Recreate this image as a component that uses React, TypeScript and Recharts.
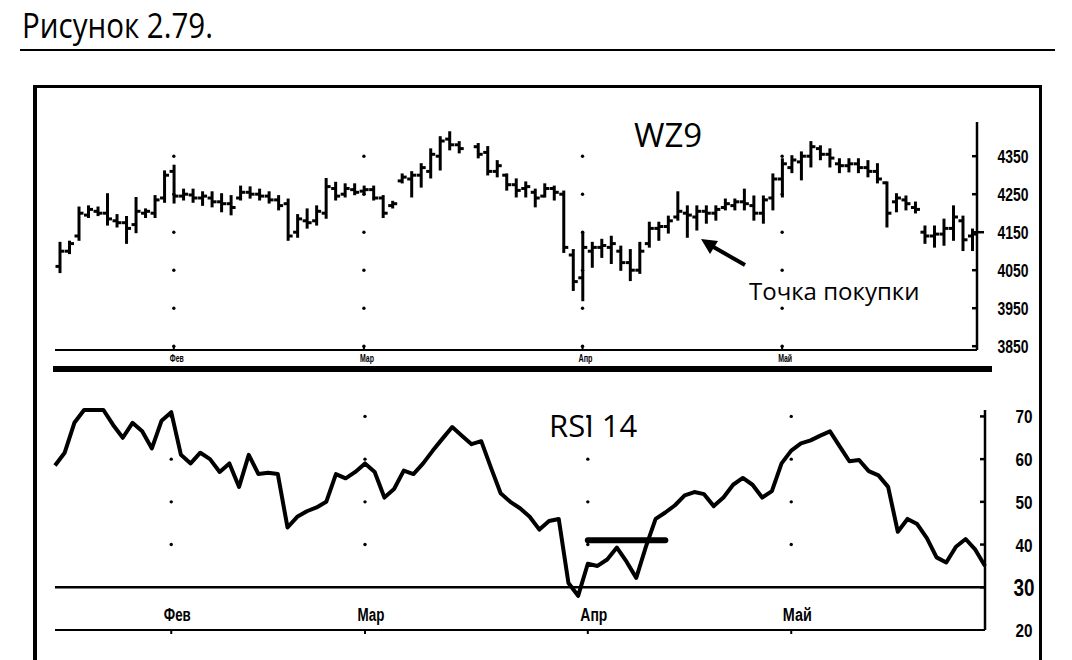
import React from "react";
import { ComposedChart, Bar, Line, XAxis, YAxis, ReferenceLine, ReferenceDot } from "recharts";

// WZ9 daily bars (Jan - May), one entry per trading day, null = no bar
const opens = [
  4060, 4100, 4140, 4195, 4205, 4200, 4180, 4175, 4170, 4200, 4200, 4240,
  4310, 4245, 4248, 4240, 4240, 4230, 4225, 4240, 4255, 4250, 4245, 4235, 4225, 4150, 4180, 4180, 4200, 4265, 4250, 4262,
  4258, 4262, 4240, 4220, 4285, 4290, 4300, 4310, 4350, 4395, 4380, null, 4375, 4360, 4310, 4300, 4275, 4265, 4255, 4245, 4265, 4250, 4090,
  4030, 4100, 4110, 4110, 4100, 4070, 4050, 4120, 4160, 4165, 4190, 4200, 4190, 4205, 4200, 4215, 4220, 4230, 4220, 4200, 4240,
  4290, 4320, 4335, 4350, 4370, 4355, 4330, 4325, 4330, 4320, 4310, 4280, 4230, 4235, 4215, 4150, 4140, 4145, 4160, 4180, 4140,
];
const highs = [
  4122, 4125, 4215, 4218, 4215, 4250, 4195, 4190, 4240, 4210, 4245, 4310,
  4325, 4262, 4262, 4255, 4255, 4250, 4245, 4270, 4268, 4262, 4255, 4245, 4236, 4195, 4210, 4218, 4290, 4280, 4276, 4276,
  4270, 4270, 4245, 4230, 4302, 4308, 4329, 4368, 4400, 4413, 4387, null, 4382, 4374, 4337, 4302, 4289, 4281, 4262, 4276, 4270, 4257, 4103,
  4149, 4122, 4130, 4138, 4112, 4103, 4122, 4175, 4175, 4191, 4255, 4218, 4218, 4218, 4218, 4236, 4236, 4262, 4244, 4244, 4302,
  4342, 4350, 4360, 4387, 4376, 4368, 4342, 4342, 4342, 4337, 4329, 4281, 4250, 4244, 4228, 4165, 4165, 4183, 4218, 4191, 4157,
];
const lows = [
  4045, 4095, 4130, 4190, 4195, 4170, 4165, 4122, 4150, 4190, 4190, 4230,
  4228, 4236, 4230, 4222, 4218, 4205, 4197, 4236, 4241, 4236, 4228, 4210, 4130, 4138, 4162, 4170, 4188, 4236, 4244, 4250,
  4250, 4236, 4190, 4215, 4281, 4244, 4270, 4294, 4315, 4368, 4360, null, 4347, 4302, 4297, 4262, 4244, 4244, 4218, 4244, 4236, 4098, 3998,
  3971, 4059, 4085, 4069, 4051, 4024, 4043, 4112, 4130, 4149, 4183, 4138, 4157, 4175, 4183, 4210, 4210, 4210, 4183, 4175, 4210,
  4244, 4308, 4289, 4323, 4342, 4323, 4308, 4310, 4308, 4297, 4281, 4165, 4205, 4210, 4202, 4122, 4112, 4117, 4130, 4103, 4103,
];
const closes = [
  4100, 4120, 4200, 4210, 4200, 4185, 4175, 4160, 4205, 4205, 4235, 4300,
  4245, 4250, 4240, 4245, 4230, 4225, 4215, 4255, 4250, 4245, 4235, 4220, 4140, 4185, 4175, 4205, 4270, 4245, 4265, 4255,
  4262, 4240, 4200, 4225, 4295, 4300, 4320, 4355, 4390, 4380, 4370, null, 4355, 4310, 4325, 4275, 4260, 4270, 4240, 4265, 4255, 4110, 4020,
  4110, 4110, 4115, 4120, 4070, 4050, 4100, 4160, 4165, 4180, 4205, 4195, 4205, 4200, 4210, 4225, 4230, 4225, 4200, 4235, 4290,
  4330, 4340, 4350, 4375, 4355, 4345, 4325, 4330, 4320, 4310, 4290, 4200, 4240, 4225, 4210, 4140, 4145, 4160, 4190, 4130, 4145,
];

// RSI 14 for the same days
const rsi14 = [
  58.5, 61.5, 68.5, 71.5, 71.5, 71.5, 68, 65, 68.5, 66.5, 62.5, 69,
  71, 61, 59, 61.5, 60, 57, 59, 53.5, 61, 56.5, 56.8, 56.5, 44, 46.5, 47.8, 48.7, 50, 56.5, 55.5, 57,
  59, 57, 51, 53, 57.3, 56.5, 59, 62, 64.8, 67.5, 65.5, 63.5, 64.2, 58, 52, 50, 48.5, 46.5, 43.5, 45.5, 46, 31, 28,
  35.5, 35, 36.5, 39.3, 36, 32.2, 39.5, 46, 47.5, 49.2, 51.5, 52.3, 51.8, 49, 51, 54, 55.6, 54, 51, 52.5, 59,
  62, 63.7, 64.4, 65.5, 66.5, 63, 59.5, 59.8, 57.2, 56.2, 53.5, 43, 46, 44.8, 41.5, 37, 35.8, 39.5, 41.3, 38.8, 35,
];

const monthIdx = [12, 32, 55, 76];
const monthNames = ["Фев", "Мар", "Апр", "Май"];
const priceTicks = [3850, 3950, 4050, 4150, 4250, 4350];
const rsiTicks = [20, 30, 40, 50, 60, 70];
const rsiDotLevels = [40, 50, 60, 70];
const buyLine = { from: 55, to: 63, level: 41 };

const days = closes.map((_, i) => i);
const priceData = days.map((i) => ({
  d: i,
  o: opens[i],
  h: highs[i],
  l: lows[i],
  c: closes[i],
  range: highs[i] == null ? null : [lows[i], highs[i]],
}));
const rsiData = days.map((i) => ({ d: i, rsi: rsi14[i] }));

const narrow = "'Liberation Sans', Arial, sans-serif";
const sans = "'Open Sans', 'Noto Sans', sans-serif";

const OhlcBar = (props: any) => {
  const { x, y, width, height, payload } = props;
  if (payload == null || payload.h == null || height == null) return null;
  const top = Math.min(y, y + height);
  const h = Math.abs(height);
  const span = payload.h - payload.l || 1;
  const cx = x + width / 2;
  const yo = top + ((payload.h - payload.o) / span) * h;
  const yc = top + ((payload.h - payload.c) / span) * h;
  return (
    <g stroke="#000" strokeWidth={3}>
      <line x1={cx} x2={cx} y1={top - 1} y2={top + h + 1} />
      <line x1={cx - 4.5} x2={cx} y1={yo} y2={yo} />
      <line x1={cx} x2={cx + 4.5} y1={yc} y2={yc} />
    </g>
  );
};

// condensed bold labels, squeezed to the width seen in the print
const Narrow = ({ x, y, w, size, children }: any) => (
  <text
    x={x - w / 2}
    y={y}
    textLength={w}
    lengthAdjust="spacingAndGlyphs"
    fontSize={size}
    fontWeight="bold"
    fontFamily={narrow}
    fill="#000"
  >
    {children}
  </text>
);

const TopMonthTick = (props: any) => {
  const { x, y, payload } = props;
  const k = monthIdx.indexOf(payload.value);
  if (k < 0) return null;
  return (
    <g>
      <line x1={x} x2={x} y1={y - 5} y2={y} stroke="#000" strokeWidth={2} />
      <Narrow x={x + 3} y={y + 12} w={14} size={10}>
        {monthNames[k]}
      </Narrow>
    </g>
  );
};

const BottomMonthTick = (props: any) => {
  const { x, y, payload } = props;
  const k = monthIdx.indexOf(payload.value);
  if (k < 0) return null;
  return (
    <g>
      <line x1={x} x2={x} y1={y} y2={y + 4} stroke="#000" strokeWidth={2} />
      <Narrow x={x + 6} y={y - 9} w={k === 3 ? 29 : 27} size={18}>
        {monthNames[k]}
      </Narrow>
    </g>
  );
};

const PriceTick = (props: any) => {
  const { x, y, payload } = props;
  return (
    <g>
      <line x1={x - 5} x2={payload.value === 4150 ? x + 7 : x} y1={y} y2={y} stroke="#000" strokeWidth={2.5} />
      <Narrow x={x + 36} y={y + 7} w={31} size={18}>
        {payload.value}
      </Narrow>
    </g>
  );
};

const RsiTick = (props: any) => {
  const { x, y, payload } = props;
  const big = payload.value === 30;
  return (
    <g>
      {payload.value > 20 && <line x1={x - 5} x2={x} y1={y} y2={y} stroke="#000" strokeWidth={2.5} />}
      <Narrow x={x + 39} y={y + (big ? 9 : 7)} w={big ? 21 : 17} size={big ? 24 : 18}>
        {payload.value}
      </Narrow>
    </g>
  );
};

export default function App() {
  return (
    <div style={{ position: "absolute", left: 0, top: 0, width: 1072, height: 660, background: "#fff", overflow: "hidden" }}>
      <div style={{ position: "absolute", left: 20, top: 49, width: 1035, height: 2, background: "#000" }} />
      <div
        style={{
          position: "absolute",
          left: 33,
          top: 85,
          width: 1002,
          height: 580,
          borderLeft: "4px solid #000",
          borderTop: "3px solid #000",
          borderRight: "3px solid #000",
        }}
      />

      <div style={{ position: "absolute", left: 0, top: 100 }}>
        <ComposedChart width={1072} height={280} data={priceData} margin={{ top: 22, right: 45, left: 55, bottom: 0 }}>
          <XAxis
            dataKey="d"
            type="category"
            interval={0}
            height={30}
            tickSize={0}
            tickMargin={0}
            tickLine={false}
            axisLine={{ stroke: "#000", strokeWidth: 2 }}
            tick={<TopMonthTick />}
          />
          <YAxis
            orientation="right"
            width={50}
            domain={[3840, 4440]}
            ticks={priceTicks}
            tickSize={0}
            tickMargin={0}
            tickLine={false}
            axisLine={{ stroke: "#000", strokeWidth: 2.5 }}
            tick={<PriceTick />}
          />
          {monthIdx.map((m) =>
            priceTicks.map((p) => (
              <ReferenceDot key={`${m}-${p}`} x={m} y={p} r={1.7} fill="#000" stroke="none" />
            ))
          )}
          <Bar dataKey="range" barSize={6} shape={<OhlcBar />} isAnimationActive={false} />
        </ComposedChart>
      </div>

      <div style={{ position: "absolute", left: 53, top: 366, width: 939, height: 6, background: "#000" }} />

      <div style={{ position: "absolute", left: 0, top: 395 }}>
        <ComposedChart width={1072} height={255} data={rsiData} margin={{ top: 15, right: 37, left: 55, bottom: 0 }}>
          <XAxis
            dataKey="d"
            type="category"
            interval={0}
            height={20}
            tickSize={0}
            tickMargin={0}
            tickLine={false}
            axisLine={{ stroke: "#000", strokeWidth: 2 }}
            tick={<BottomMonthTick />}
          />
          <YAxis
            orientation="right"
            width={50}
            domain={[20, 71]}
            ticks={rsiTicks}
            tickSize={0}
            tickMargin={0}
            tickLine={false}
            axisLine={{ stroke: "#000", strokeWidth: 2.5 }}
            tick={<RsiTick />}
          />
          {monthIdx.map((m) =>
            rsiDotLevels.map((v) => (
              <ReferenceDot key={`${m}-${v}`} x={m} y={v} r={1.7} fill="#000" stroke="none" />
            ))
          )}
          <ReferenceLine y={30} stroke="#000" strokeWidth={2.5} />
          <Line
            dataKey="rsi"
            type="linear"
            stroke="#000"
            strokeWidth={4}
            strokeLinejoin="round"
            dot={false}
            isAnimationActive={false}
          />
          <ReferenceLine
            segment={[
              { x: buyLine.from, y: buyLine.level },
              { x: buyLine.to, y: buyLine.level },
            ]}
            stroke="#000"
            strokeWidth={6}
            strokeLinecap="round"
          />
        </ComposedChart>
      </div>

      <svg style={{ position: "absolute", left: 0, top: 0 }} width={1072} height={660} pointerEvents="none">
        <text x={22} y={38} fontSize={34} fontFamily={sans} fill="#000" textLength={191} lengthAdjust="spacingAndGlyphs">
          Рисунок 2.79.
        </text>
        <text x={634} y={147} fontSize={33} fontFamily={sans} fill="#000">
          WZ9
        </text>
        <text x={549} y={437} fontSize={31} fontFamily={sans} fill="#000">
          RSI 14
        </text>
        <text x={749} y={300} fontSize={24} fontFamily={sans} fill="#000">
          Точка покупки
        </text>
        <line x1={745} y1={265} x2={710} y2={245} stroke="#000" strokeWidth={4} />
        <polygon points="701,239 718,241 710,254" fill="#000" />
      </svg>
    </div>
  );
}
